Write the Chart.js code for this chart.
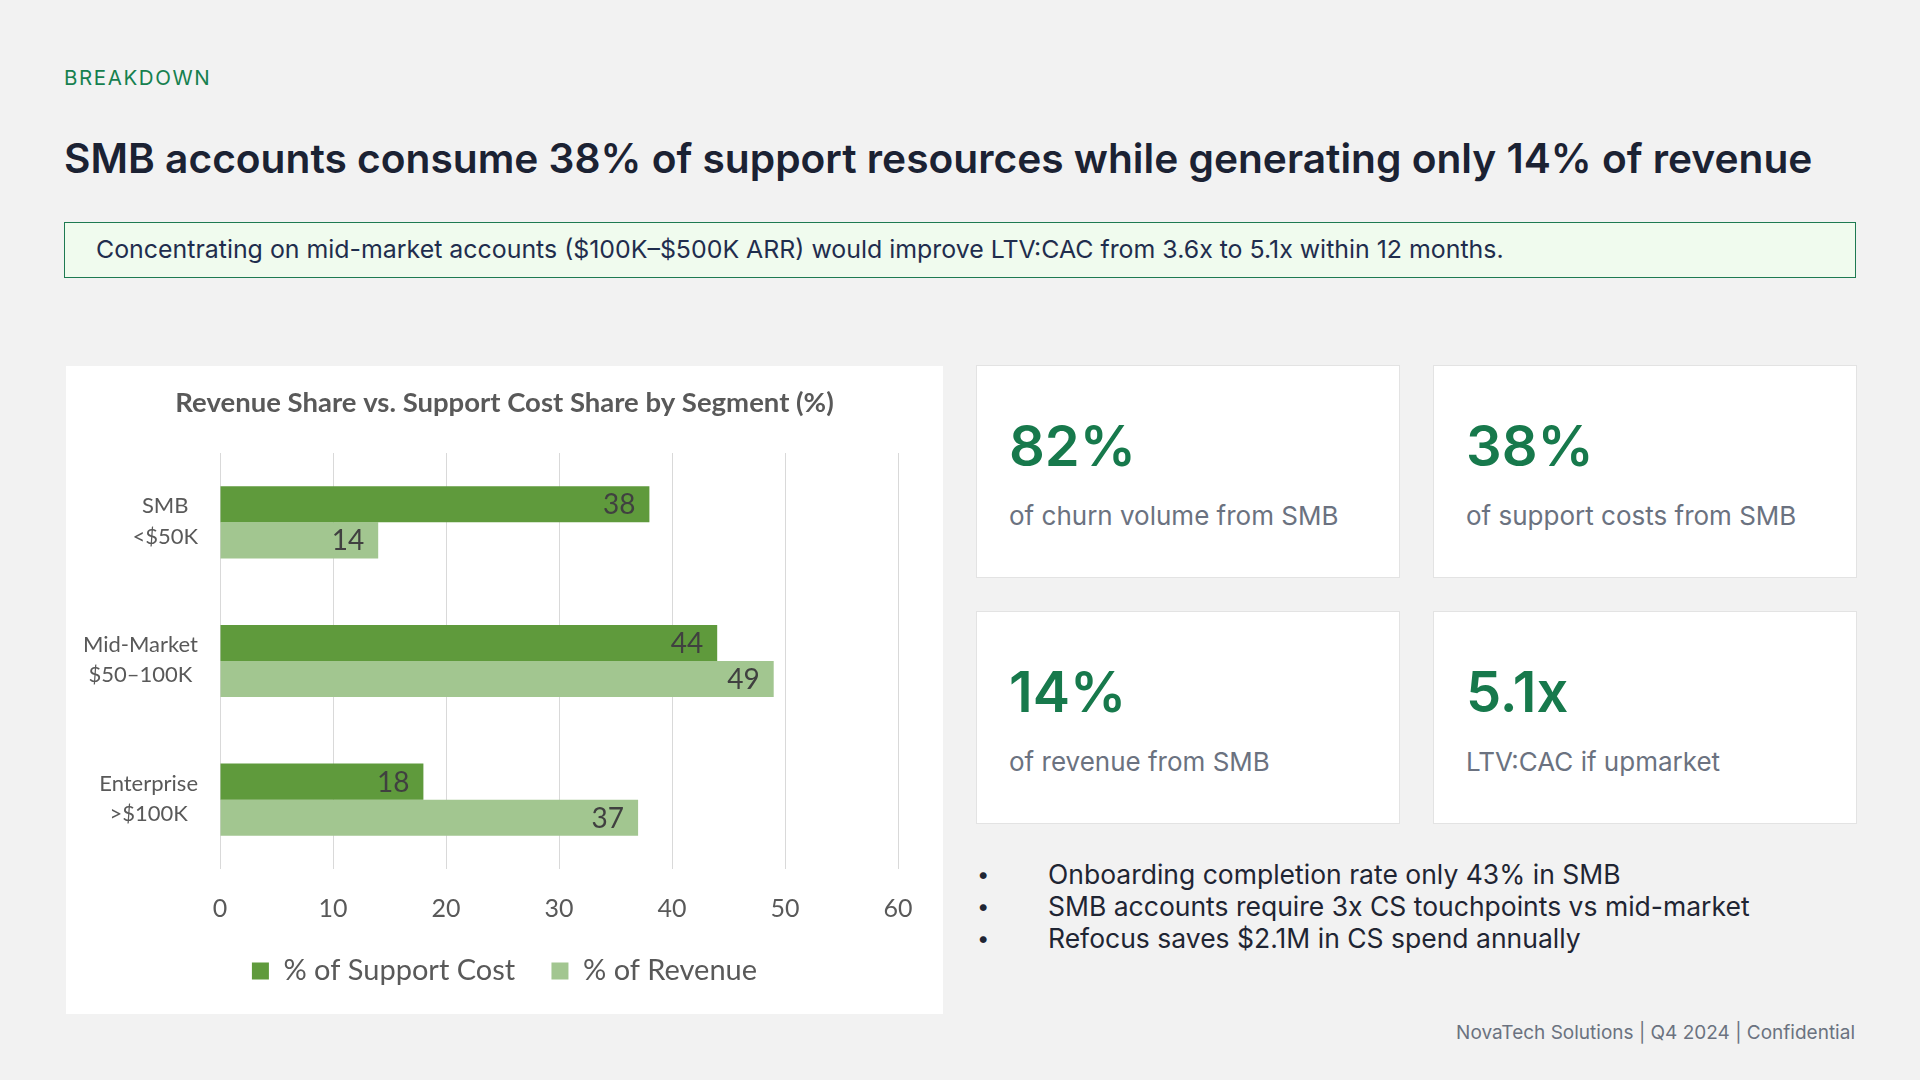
<!DOCTYPE html>
<html>
<head>
<meta charset="utf-8">
<script src="https://cdn.jsdelivr.net/npm/chart.js@4/dist/chart.umd.min.js"></script>
<style>
  html, body { margin: 0; padding: 0; }
  body { width: 1920px; height: 1080px; background: #f2f2f2; position: relative; overflow: hidden; font-family: Inter, "Noto Sans", sans-serif; }
  .abs { position: absolute; white-space: nowrap; }
  #kicker { left: 64px; top: 68px; font-size: 20.5px; line-height: 20.5px; color: #16804f; letter-spacing: 1.6px; }
  #title { left: 64px; top: 139px; font-size: 40.7px; line-height: 40.7px; font-weight: 600; color: #1b2233; }
  #callout { left: 64px; top: 222px; width: 1790px; height: 54px; background: #f0fbee; border: 1px solid #1e7a52; box-sizing: content-box; }
  #callout span { position: absolute; left: 31px; top: 13.5px; font-size: 24.9px; line-height: 25px; color: #1f2d4d; white-space: nowrap; }
  #chartCard { left: 66px; top: 366px; width: 877px; height: 648px; background: #ffffff; }
  .card { position: absolute; width: 422px; height: 211px; background: #ffffff; border: 1px solid #e3e3e3; }
  .card .num { position: absolute; left: 32px; top: 51.5px; font-size: 56px; line-height: 56px; font-weight: 600; color: #17794c; white-space: nowrap; }
  .card .lbl { position: absolute; left: 32px; top: 137px; font-size: 26px; line-height: 26px; color: #6b7280; white-space: nowrap; }
  #bullets { left: 977px; top: 858px; font-size: 26.5px; line-height: 32px; color: #1f2533; }
  #bullets div { position: relative; padding-left: 71px; }
  #bullets div::before { content: "\2022"; position: absolute; left: 0; top: 0; font-size: 22px; }
  #footer { right: 65px; top: 1023px; font-size: 19px; line-height: 19px; color: #6b7280; }
</style>
</head>
<body>
<div id="kicker" class="abs">BREAKDOWN</div>
<div id="title" class="abs">SMB accounts consume 38% of support resources while generating only 14% of revenue</div>
<div id="callout" class="abs"><span>Concentrating on mid-market accounts ($100K–$500K ARR) would improve LTV:CAC from 3.6x to 5.1x within 12 months.</span></div>

<div id="chartCard" class="abs"><canvas id="chart"></canvas></div>

<div class="card" style="left:976px; top:365px;"><div class="num">82%</div><div class="lbl">of churn volume from SMB</div></div>
<div class="card" style="left:1433px; top:365px;"><div class="num">38%</div><div class="lbl">of support costs from SMB</div></div>
<div class="card" style="left:976px; top:611px;"><div class="num">14%</div><div class="lbl">of revenue from SMB</div></div>
<div class="card" style="left:1433px; top:611px;"><div class="num">5.1x</div><div class="lbl">LTV:CAC if upmarket</div></div>

<div id="bullets" class="abs">
  <div>Onboarding completion rate only 43% in SMB</div>
  <div>SMB accounts require 3x CS touchpoints vs mid-market</div>
  <div>Refocus saves $2.1M in CS spend annually</div>
</div>

<div id="footer" class="abs">NovaTech Solutions | Q4 2024 | Confidential</div>

<script>
const chartTitle = "Revenue Share vs. Support Cost Share by Segment (%)";
const segments = [["SMB", "<$50K"], ["Mid-Market", "$50–100K"], ["Enterprise", ">$100K"]];
const seriesNames = ["% of Support Cost", "% of Revenue"];
const supportCost = [38, 44, 18];
const revenue = [14, 49, 37];
const xTicks = [0, 10, 20, 30, 40, 50, 60];
const seriesColors = ["#5f9a3c", "#a2c690"];

const FONT = "Lato, 'Open Sans', sans-serif";
const TEXT_GRAY = "#595959";

const valueLabels = {
  id: "valueLabels",
  afterDatasetsDraw(chart) {
    const ctx = chart.ctx;
    ctx.save();
    ctx.font = "28px " + FONT;
    ctx.fillStyle = "#404040";
    ctx.textAlign = "right";
    ctx.textBaseline = "middle";
    chart.data.datasets.forEach((ds, di) => {
      const meta = chart.getDatasetMeta(di);
      meta.data.forEach((bar, i) => {
        ctx.fillText(String(ds.data[i]), bar.x - 14, bar.y + 1);
      });
    });
    ctx.restore();
  }
};

const categoryLabels = {
  id: "categoryLabels",
  afterDraw(chart) {
    const ctx = chart.ctx;
    const yScale = chart.scales.y;
    const rightEdge = 132;
    const lh = 30.5;
    ctx.save();
    ctx.font = "22px " + FONT;
    ctx.fillStyle = TEXT_GRAY;
    ctx.textAlign = "center";
    ctx.textBaseline = "middle";
    chart.data.labels.forEach((lab, i) => {
      const lines = Array.isArray(lab) ? lab : [lab];
      const widest = Math.max(...lines.map(l => ctx.measureText(l).width));
      const cx = rightEdge - widest / 2;
      const cy = yScale.getPixelForValue(i);
      const start = cy - (lines.length - 1) * lh / 2;
      lines.forEach((l, k) => ctx.fillText(l, cx, start + k * lh - 1));
    });
    ctx.restore();
  }
};

new Chart(document.getElementById("chart"), {
  type: "bar",
  data: {
    labels: segments,
    datasets: [
      { label: seriesNames[0], data: supportCost, backgroundColor: seriesColors[0] },
      { label: seriesNames[1], data: revenue, backgroundColor: seriesColors[1] }
    ]
  },
  options: {
    indexAxis: "y",
    responsive: true,
    maintainAspectRatio: false,
    animation: false,
    categoryPercentage: 0.52,
    barPercentage: 1.0,
    layout: { padding: { left: 0, right: 0, top: 0, bottom: 18.5 } },
    scales: {
      x: {
        min: 0, max: 60,
        afterBuildTicks: (s) => { s.ticks = xTicks.map(v => ({ value: v })); },
        grid: { color: "#d9d9d9", lineWidth: 1, drawTicks: false },
        border: { display: false },
        ticks: { color: TEXT_GRAY, font: { family: FONT, size: 25, lineHeight: 0.9 }, padding: 28.75 },
        afterFit: (s) => { s.height = 51.25; }
      },
      y: {
        grid: { display: false },
        border: { display: false },
        ticks: { display: false },
        afterFit: (s) => { s.width = 154; }
      },
      yRight: {
        type: "linear",
        position: "right",
        grid: { display: false },
        border: { display: false },
        ticks: { display: false },
        afterFit: (s) => { s.width = 45; }
      }
    },
    plugins: {
      title: {
        display: true, text: chartTitle, color: TEXT_GRAY,
        font: { family: FONT, size: 27.5, weight: "bold" },
        padding: { top: 21, bottom: 33 }
      },
      legend: {
        position: "bottom",
        labels: { color: TEXT_GRAY, font: { family: FONT, size: 29 }, boxWidth: 17, boxHeight: 17, padding: 36.25 }
      },
      tooltip: { enabled: false }
    }
  },
  plugins: [valueLabels, categoryLabels]
});
</script>
</body>
</html>
